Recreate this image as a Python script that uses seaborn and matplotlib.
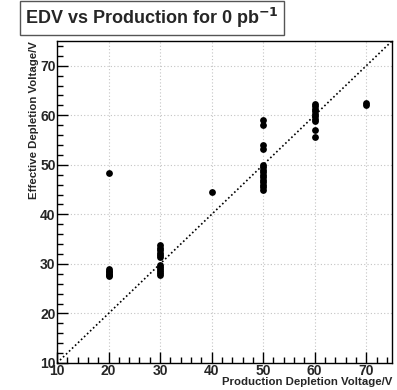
import matplotlib
matplotlib.use("Agg")
import matplotlib.pyplot as plt
import seaborn as sns
import pandas as pd
from matplotlib.ticker import MultipleLocator

# Data
x20 = [48.3, 28.9, 28.6, 28.3, 28.0, 27.8, 27.5]
x30 = [33.8, 33.3, 32.8, 32.3, 31.8, 31.3, 29.8, 29.4, 29.0, 28.6, 28.2, 27.8]
x40 = [44.6]
x50 = [59.0, 58.0, 54.0, 53.2, 50.0, 49.5, 49.0, 48.5, 48.0, 47.5, 47.0, 46.5, 46.0, 45.5, 45.0]
x60 = [62.3, 61.8, 61.3, 60.8, 60.3, 59.8, 59.3, 58.8, 57.1, 55.6]
x70 = [62.4, 62.0]
production = [20, 30, 40, 50, 60, 70]
groups = [x20, x30, x40, x50, x60, x70]

rows = []
for p, vals in zip(production, groups):
    for v in vals:
        rows.append({"prod": p, "edv": v})
df = pd.DataFrame(rows)

sns.set_theme(style="white")
plt.rcParams['font.family'] = ['Liberation Sans', 'DejaVu Sans']

fig = plt.figure(figsize=(3.97, 3.90), dpi=100)
ax = fig.add_axes([57/397, (390-363)/390, 335/397, 322/390])

ax.axline((10, 10), slope=1, color="black", linestyle=(0, (1, 1.5)), linewidth=1.2, zorder=2)
sns.scatterplot(data=df, x="prod", y="edv", ax=ax, color="black", s=24,
                edgecolor="black", linewidth=0, zorder=3, legend=False)

ax.set_xlim(10, 75)
ax.set_ylim(10, 75)
ax.xaxis.set_major_locator(MultipleLocator(10))
ax.yaxis.set_major_locator(MultipleLocator(10))
ax.xaxis.set_minor_locator(MultipleLocator(2))
ax.yaxis.set_minor_locator(MultipleLocator(2))
ax.grid(True, which="major", color="#c4c4c4", linestyle=(0, (1, 2)), linewidth=0.8)
ax.tick_params(which="major", direction="in", length=8, width=1, color="black",
               labelsize=10, pad=1, left=True, bottom=True)
ax.tick_params(which="minor", direction="in", length=4, width=1, color="black",
               left=True, bottom=True)
for lab in ax.get_xticklabels() + ax.get_yticklabels():
    lab.set_fontweight("bold")
for sp in ax.spines.values():
    sp.set_color("black")
    sp.set_linewidth(1)

ax.set_xlabel("Production Depletion Voltage/V", fontsize=8.2, fontweight="bold",
              ha="right", va="top")
ax.xaxis.set_label_coords(1.0, -(377 - 363) / 322)
ax.set_ylabel("Effective Depletion Voltage/V", fontsize=8.2, fontweight="bold",
              ha="right", va="center")
ax.yaxis.set_label_coords(-(57 - 34) / 335, 1.0)

fig.text(152/397, 1 - 18/390, r"EDV vs Production for 0 pb$^{\mathbf{-1}}$",
         ha="center", va="center", fontsize=13, fontweight="bold",
         bbox=dict(boxstyle="square,pad=0.3", fc="white", ec="#555555", lw=1))

fig.savefig("out.png", dpi=100)
